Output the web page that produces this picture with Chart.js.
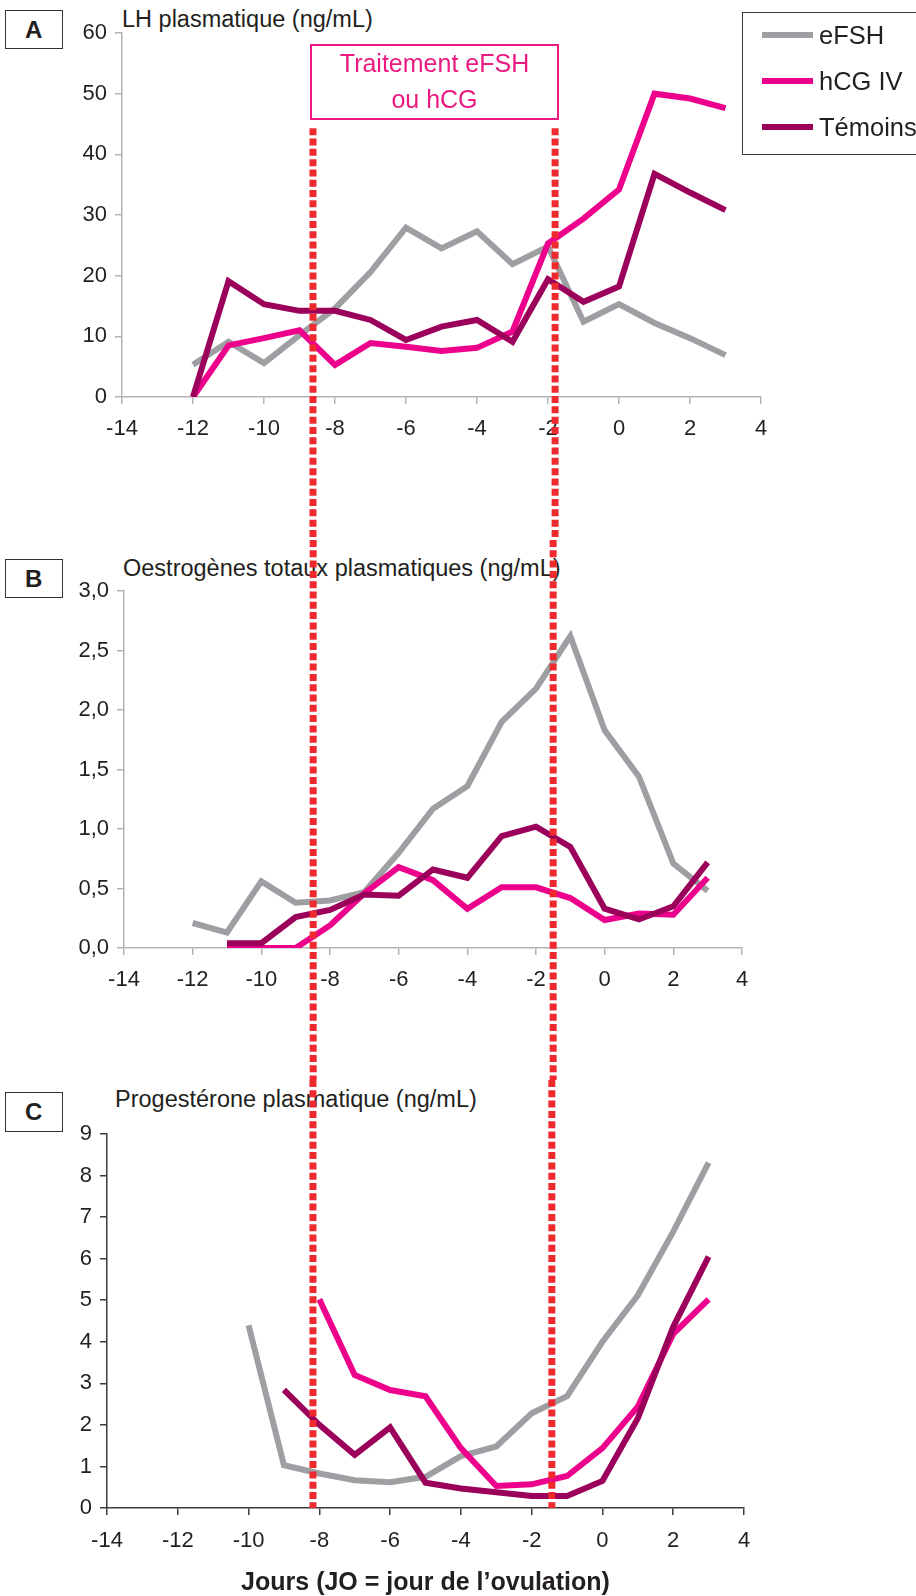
<!DOCTYPE html>
<html lang="fr">
<head>
<meta charset="utf-8">
<title>LH, oestrogènes et progestérone plasmatiques</title>
<script src="https://cdn.jsdelivr.net/npm/chart.js@4.4.1/dist/chart.umd.min.js"></script>
<style>
  body { margin: 0; background: #fff; font-family: "Liberation Sans", Arial, sans-serif; color: #231f20; }
  #page { position: relative; width: 916px; height: 1596px; overflow: hidden; }
  canvas { position: absolute; left: 0; }
  .lettre { position: absolute; left: 5px; width: 55.5px; height: 37.5px; border: 1.5px solid #333;
            font-weight: bold; font-size: 24px; line-height: 38px; text-align: center; }
  .titre { position: absolute; font-size: 23.5px; line-height: 23.5px; white-space: nowrap; }
  #traitement { position: absolute; left: 310px; top: 44px; width: 245px; height: 72px;
                border: 2px solid #ec1c83; color: #ec1a80; font-size: 25px; line-height: 35.5px; text-align: center; }
  #legende { position: absolute; left: 742px; top: 12px; width: 190px; height: 141px; border: 1.5px solid #3a3a3a; }
  .ligne { position: absolute; left: 0; height: 25px; display: flex; align-items: center; white-space: nowrap; }
  .trait { display: inline-block; width: 51px; height: 6px; margin-left: 19px; margin-right: 6px; position: relative; top: -1px; }
  .nom { font-size: 25.5px; line-height: 25px; }
</style>
</head>
<body>
<div id="page">
  <div class="lettre" style="top:9.5px">A</div>
  <div class="lettre" style="top:558.5px">B</div>
  <div class="lettre" style="top:1092px">C</div>
  <div class="titre" style="left:122px; top:7.5px">LH plasmatique (ng/mL)</div>
  <div class="titre" style="left:123px; top:557px">Oestrogènes totaux plasmatiques (ng/mL)</div>
  <div class="titre" style="left:115px; top:1087.5px">Progestérone plasmatique (ng/mL)</div>

  <canvas id="panneauA" width="916" height="540" style="top:0"></canvas>
  <canvas id="panneauB" width="916" height="540" style="top:540px"></canvas>
  <canvas id="panneauC" width="916" height="516" style="top:1080px"></canvas>

  <div id="traitement">Traitement eFSH<br>ou hCG</div>
  <div id="legende"></div>
</div>
<script>
// jours par rapport à l'ovulation
const jours = [-12, -11, -10, -9, -8, -7, -6, -5, -4, -3, -2, -1, 0, 1, 2, 3];
const series = ['eFSH', 'hCG IV', 'Témoins'];
const couleurs = ['#9d9fa2', '#ec008c', '#9b005a'];

// A - LH plasmatique (ng/mL)
const lhEFSH = [5.3, 9.1, 5.6, 10.2, 14.6, 20.6, 27.9, 24.5, 27.3, 21.9, 24.8, 12.4, 15.3, 12.2, 9.7, 6.9];
const lhHCG = [0, 8.5, 9.7, 11.0, 5.3, 8.9, 8.3, 7.6, 8.1, 10.8, 25.3, 29.4, 34.2, 50.0, 49.2, 47.6];
const lhTemoins = [0, 19.1, 15.3, 14.2, 14.2, 12.7, 9.4, 11.6, 12.7, 9.1, 19.4, 15.7, 18.2, 36.8, 33.7, 30.8];

// B - oestrogènes totaux (ng/mL)
const oeEFSH = [0.21, 0.13, 0.56, 0.38, 0.40, 0.47, 0.80, 1.17, 1.36, 1.90, 2.18, 2.62, 1.83, 1.44, 0.71, 0.48];
const oeHCG = [null, 0, 0, 0, 0.19, 0.46, 0.68, 0.57, 0.33, 0.51, 0.51, 0.42, 0.235, 0.29, 0.28, 0.59];
const oeTemoins = [null, 0.04, 0.04, 0.26, 0.32, 0.45, 0.44, 0.66, 0.59, 0.94, 1.02, 0.85, 0.33, 0.24, 0.35, 0.72];

// C - progestérone (ng/mL)
const prEFSH = [null, null, 4.40, 1.03, 0.83, 0.67, 0.62, 0.75, 1.25, 1.48, 2.28, 2.69, 4.0, 5.12, 6.65, 8.31];
const prHCG = [null, null, null, null, 5.02, 3.2, 2.84, 2.69, 1.44, 0.53, 0.57, 0.77, 1.44, 2.44, 4.19, 5.02];
const prTemoins = [null, null, null, 2.84, 2.0, 1.28, 1.94, 0.61, 0.47, 0.38, 0.29, 0.29, 0.65, 2.16, 4.36, 6.05];

// axes
const xMin = -14, xMax = 4, xPas = 2;
const yA = [0, 60, 10];
const yB = [0, 3, 0.5];
const yC = [0, 9, 1];

// début et fin du traitement (lignes pointillées rouges), lues sur chaque panneau
const traitementA = [-8.62, -1.80];
const traitementB = [-8.49, -1.50];
const traitementC = [-8.18, -1.43];

Chart.defaults.font.family = '"Liberation Sans", Arial, sans-serif';
Chart.defaults.color = '#231f20';

function points(valeurs) {
  return jours.map((j, i) => ({ x: j, y: valeurs[i] })).filter(p => p.y !== null);
}

function lignesTraitement(jourx, depuis, jusqua) {
  return {
    id: 'lignesTraitement',
    afterDatasetsDraw(chart) {
      const { ctx, scales: { x, y } } = chart;
      const haut = depuis == null ? 0 : y.getPixelForValue(depuis);
      const bas = jusqua == null ? chart.height : y.getPixelForValue(jusqua);
      ctx.save();
      ctx.strokeStyle = '#ee2a2e';
      ctx.lineWidth = 7;
      ctx.setLineDash([7, 3.3]);
      jourx.forEach(function (j) {
        const px = x.getPixelForValue(j);
        ctx.beginPath();
        ctx.moveTo(px, haut);
        ctx.lineTo(px, bas);
        ctx.stroke();
      });
      ctx.restore();
    }
  };
}

function panneau(id, valeurs, axeY, p) {
  const datasets = valeurs.map((v, i) => ({
    label: series[i],
    data: points(v),
    borderColor: couleurs[i],
    backgroundColor: couleurs[i],
    borderWidth: 6,
    pointRadius: 0,
    tension: 0,
    borderJoinStyle: 'miter',
    order: 3 - i
  }));
  return new Chart(document.getElementById(id), {
    type: 'line',
    data: { datasets: datasets },
    plugins: [lignesTraitement(p.traitement, p.depuis, p.jusqua)],
    options: {
      responsive: false,
      animation: false,
      layout: { padding: p.marges },
      plugins: { legend: { display: false }, tooltip: { enabled: false } },
      scales: {
        x: {
          type: 'linear',
          min: xMin,
          max: xMax,
          ticks: { stepSize: xPas, padding: p.ecartX, maxRotation: 0, autoSkip: false, font: { size: 22 } },
          grid: { drawOnChartArea: false, tickLength: 7, color: p.axe, lineWidth: 1.5 },
          border: { color: p.axe, width: 1.5 },
          title: p.titreX ? {
            display: true,
            text: p.titreX,
            font: { size: 25, weight: 'bold', lineHeight: 1 },
            color: '#231f20',
            padding: { top: 0, bottom: 0 }
          } : { display: false },
          afterFit: s => { s.height = p.hauteurX; }
        },
        y: {
          min: axeY[0],
          max: axeY[1],
          ticks: { stepSize: axeY[2], padding: 8, font: { size: 22 }, callback: p.format },
          grid: { drawOnChartArea: false, tickLength: 7, color: p.axe, lineWidth: 1.5 },
          border: { color: p.axe, width: 1.5 },
          afterFit: s => { s.width = p.largeurY; }
        }
      }
    }
  });
}

panneau('panneauA', [lhEFSH, lhHCG, lhTemoins], yA, {
  marges: { left: 62, right: 155, top: 33, bottom: 93 },
  largeurY: 60, hauteurX: 50, axe: '#b4b4b4', ecartX: 12,
  traitement: traitementA, depuis: 44.3, jusqua: null,
  format: v => String(v)
});

panneau('panneauB', [oeEFSH, oeHCG, oeTemoins], yB, {
  marges: { left: 54, right: 174, top: 51, bottom: 82 },
  largeurY: 70, hauteurX: 50, axe: '#b4b4b4', ecartX: 12,
  traitement: traitementB, depuis: null, jusqua: null,
  format: v => v.toFixed(1).replace('.', ',')
});

panneau('panneauC', [prEFSH, prHCG, prTemoins], yC, {
  marges: { left: 47, right: 172, top: 54, bottom: 0 },
  largeurY: 60, hauteurX: 88, axe: '#3c3c3c', ecartX: 13,
  traitement: traitementC, depuis: null, jusqua: 0,
  format: v => String(v),
  titreX: 'Jours (JO = jour de l’ovulation)'
});

// légende
const legende = document.getElementById('legende');
series.forEach(function (nom, i) {
  const ligne = document.createElement('div');
  ligne.className = 'ligne';
  ligne.style.top = (10 + i * 46) + 'px';
  ligne.innerHTML = '<span class="trait" style="background:' + couleurs[i] + '"></span><span class="nom">' + nom + '</span>';
  legende.appendChild(ligne);
});
</script>
</body>
</html>
